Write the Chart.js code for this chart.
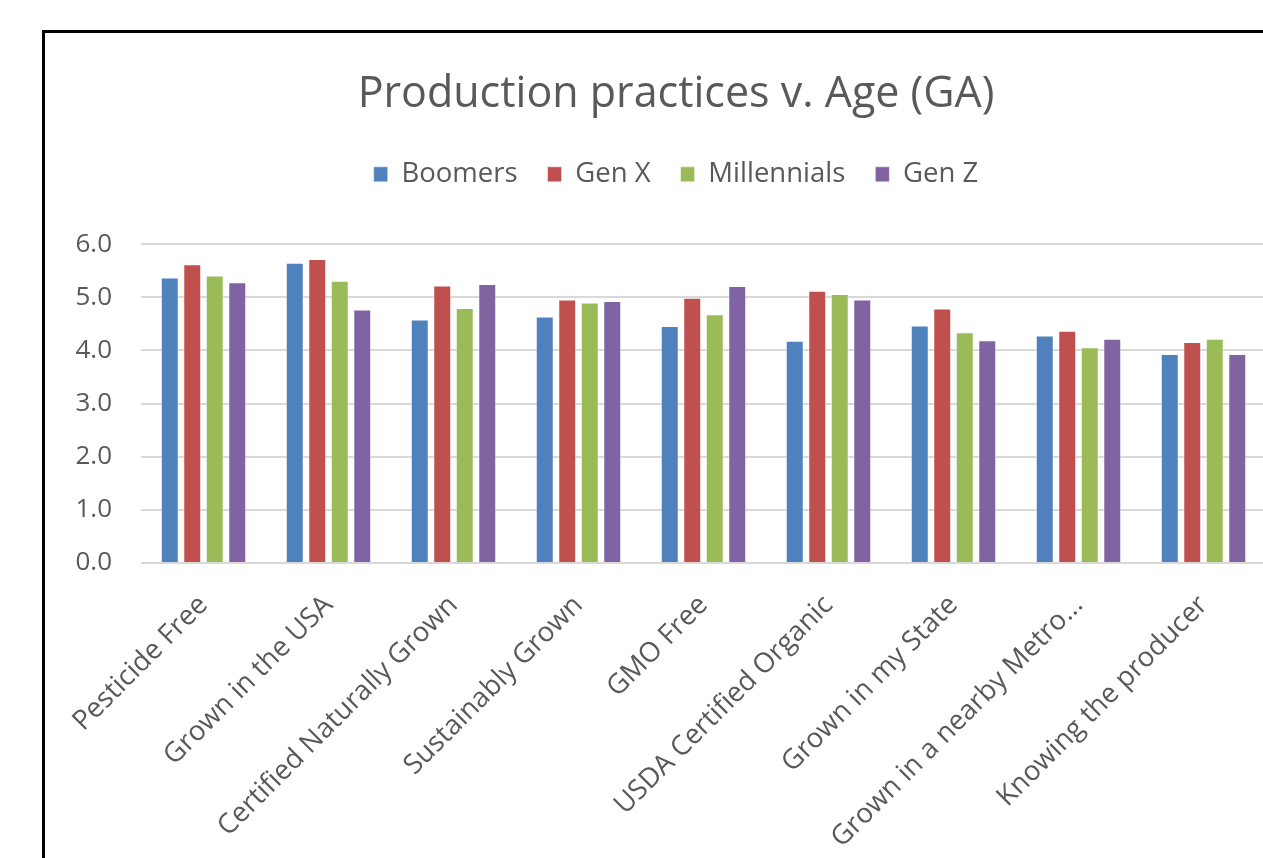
<!DOCTYPE html>
<html>
<head>
<meta charset="utf-8">
<script src="https://cdn.jsdelivr.net/npm/chart.js@4"></script>
<style>
  html, body { margin: 0; padding: 0; background: #fff; overflow: hidden; }
  #frame {
    position: absolute; left: 42px; top: 30px;
    width: 1262px; height: 830px;
    border: 3px solid #000; background: #fff;
  }
</style>
</head>
<body>
<div id="frame"><canvas id="chart" width="1262" height="830"></canvas></div>
<script>
const categories = [
  'Pesticide Free', 'Grown in the USA', 'Certified Naturally Grown',
  'Sustainably Grown', 'GMO Free', 'USDA Certified Organic',
  'Grown in my State', 'Grown in a nearby Metro...', 'Knowing the producer'
]
const boomers     = [5.37, 5.65, 4.58, 4.64, 4.46, 4.18, 4.47, 4.28, 3.93]
const genX        = [5.62, 5.72, 5.22, 4.96, 4.99, 5.12, 4.79, 4.37, 4.16]
const millennials = [5.41, 5.31, 4.80, 4.90, 4.68, 5.06, 4.34, 4.06, 4.22]
const genZ        = [5.28, 4.77, 5.25, 4.93, 5.21, 4.96, 4.19, 4.22, 3.93]

const font = '"Open Sans", Lato, sans-serif'
const grey = '#595959'

const series = (label, data, color) => ({
  label,
  data,
  backgroundColor: color,
  borderColor: 'rgba(255,255,255,0.45)',
  borderWidth: 1,
  categoryPercentage: 0.72,
  barPercentage: 0.8
})

new Chart(document.getElementById('chart'), {
  type: 'bar',
  data: {
    labels: categories,
    datasets: [
      series('Boomers', boomers, '#4F81BD'),
      series('Gen X', genX, '#C0504D'),
      series('Millennials', millennials, '#9BBB59'),
      series('Gen Z', genZ, '#8064A2')
    ]
  },
  options: {
    responsive: false,
    animation: false,
    layout: { padding: 0 },
    plugins: {
      title: {
        display: true,
        text: 'Production practices v. Age (GA)',
        color: grey,
        font: { family: font, size: 43, weight: 'normal' },
        padding: { top: 36, bottom: 10 }
      },
      legend: {
        position: 'top',
        labels: {
          color: grey,
          font: { family: font, size: 27.5 },
          boxWidth: 14,
          boxHeight: 15,
          padding: 30
        }
      },
      // empty subtitle used as a spacer between legend and plot
      subtitle: {
        display: true,
        text: '',
        weight: 500,
        font: { size: 1, lineHeight: 1 },
        padding: { top: 45, bottom: 0 }
      },
      tooltip: { enabled: false }
    },
    scales: {
      x: {
        grid: { display: false },
        border: { display: false },
        ticks: {
          color: grey,
          font: { family: font, size: 27.5 },
          minRotation: 45,
          maxRotation: 45,
          autoSkip: false,
          padding: 18
        },
        afterFit (scale) { scale.height = 300 }
      },
      y: {
        min: 0,
        max: 6,
        grid: { color: '#d9d9d9', lineWidth: 2, drawTicks: false },
        border: { display: false },
        ticks: {
          stepSize: 1,
          color: grey,
          font: { family: font, size: 26 },
          padding: 29,
          callback: (v) => v.toFixed(1)
        },
        afterFit (scale) { scale.width = 96 }
      },
      yRight: {
        position: 'right',
        grid: { display: false },
        border: { display: false },
        ticks: { display: false },
        afterFit (scale) { scale.width = 41 }
      }
    }
  }
})
</script>
</body>
</html>
